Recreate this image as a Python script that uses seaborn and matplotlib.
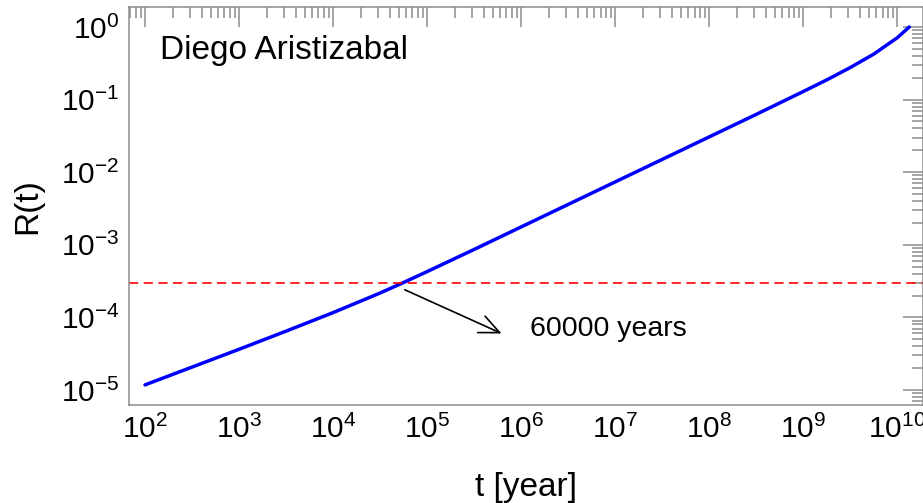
import numpy as np
import pandas as pd
import matplotlib
matplotlib.use("Agg")
import matplotlib.pyplot as plt
import matplotlib.ticker as mticker
import seaborn as sns

# ---- data (log10 values) ----
log_t = [2.0, 2.5, 3.0, 3.5, 4.0, 4.25, 4.5, 4.75, 5.0, 5.5, 6.0, 6.5, 7.0,
         7.5, 8.0, 8.5, 9.0, 9.25, 9.5, 9.75, 10.0, 10.13]
log_R = [-4.93, -4.685, -4.44, -4.19, -3.935, -3.80, -3.665, -3.52, -3.37,
         -3.065, -2.755, -2.445, -2.135, -1.825, -1.515, -1.205, -0.89,
         -0.73, -0.56, -0.375, -0.15, 0.0]
x_decades = [2, 3, 4, 5, 6, 7, 8, 9, 10]
y_decades = [-5, -4, -3, -2, -1, 0]
R_eq = 3.0e-4                      # red dashed level
arrow_start = (5.8e4, 2.4e-4)
arrow_end = (6.2e5, 6.0e-5)
note_text = "60000 years"
note_pos = (1.25e6, 5.5e-5)
author = "Diego Aristizabal"
xlabel = "t [year]"
ylabel = "R(t)"

df = pd.DataFrame({"t": np.power(10.0, log_t), "R": np.power(10.0, log_R)})

sns.set_style("white")
plt.rcParams["font.family"] = ["Liberation Sans", "DejaVu Sans"]
plt.rcParams["mathtext.fontset"] = "custom"
plt.rcParams["mathtext.rm"] = "Liberation Sans"
plt.rcParams["mathtext.it"] = "Liberation Sans:italic"
plt.rcParams["mathtext.bf"] = "Liberation Sans:bold"
plt.rcParams["text.color"] = "black"
plt.rcParams["axes.labelcolor"] = "black"
plt.rcParams["xtick.labelcolor"] = "black"
plt.rcParams["ytick.labelcolor"] = "black"

fig = plt.figure(figsize=(9.23, 5.03), dpi=100)
ax = fig.add_axes([129 / 923, 1 - 405 / 503, (922.5 - 129) / 923, (405 - 7) / 503])

sns.lineplot(data=df, x="t", y="R", ax=ax, color="#0000ff", lw=2.5, legend=False)
ax.axhline(R_eq, color="#ff0000", lw=1.2, ls=(0, (5.5, 3.3)))

ax.annotate("", xy=arrow_end, xytext=arrow_start,
            arrowprops=dict(arrowstyle="->,head_length=1.45,head_width=0.65",
                            mutation_scale=10, color="black", lw=1.2,
                            shrinkA=0, shrinkB=0))
ax.text(note_pos[0], note_pos[1], note_text, fontsize=20.5, va="baseline",
        ha="left", color="black")
ax.text(0.039, 0.869, author, transform=ax.transAxes, fontsize=24,
        va="baseline", ha="left", color="black")

ax.set_xscale("log")
ax.set_yscale("log")
xlim = (10 ** 1.830, 10 ** 10.27)
ylim = (10 ** -5.207, 10 ** 0.275)
ax.set_xlim(*xlim)
ax.set_ylim(*ylim)


def minor_ticks(lo, hi):
    vals = []
    for d in range(int(np.floor(np.log10(lo))), int(np.ceil(np.log10(hi))) + 1):
        for m in range(2, 10):
            v = m * 10.0 ** d
            if lo <= v <= hi:
                vals.append(v)
    return vals


ax.xaxis.set_major_locator(mticker.FixedLocator([10.0 ** d for d in x_decades]))
ax.yaxis.set_major_locator(mticker.FixedLocator([10.0 ** d for d in y_decades]))
ax.xaxis.set_major_formatter(mticker.FixedFormatter([rf"$10^{{{d}}}$" for d in x_decades]))
ax.yaxis.set_major_formatter(mticker.FixedFormatter([rf"$10^{{{d}}}$" for d in y_decades]))
ax.xaxis.set_minor_locator(mticker.FixedLocator(minor_ticks(*xlim)))
ax.yaxis.set_minor_locator(mticker.FixedLocator(minor_ticks(*ylim)))
ax.xaxis.set_minor_formatter(mticker.NullFormatter())
ax.yaxis.set_minor_formatter(mticker.NullFormatter())

ax.tick_params(which="both", direction="in", top=True, right=True,
               color="#8c8c8c", width=1.1, labelcolor="black")
ax.tick_params(which="major", length=14.4, labelsize=21.5, pad=7)
ax.tick_params(which="minor", length=8)
for s in ax.spines.values():
    s.set_color("#8c8c8c")
    s.set_linewidth(1.1)

ax.set_xlabel(xlabel, fontsize=24, color="black")
ax.set_ylabel(ylabel, fontsize=24, color="black")
ax.xaxis.set_label_coords(0.5, -0.168)
ax.xaxis.label.set_va("top")
ax.yaxis.set_label_coords(-0.108, 0.5)

fig.savefig("out.png", dpi=100)
